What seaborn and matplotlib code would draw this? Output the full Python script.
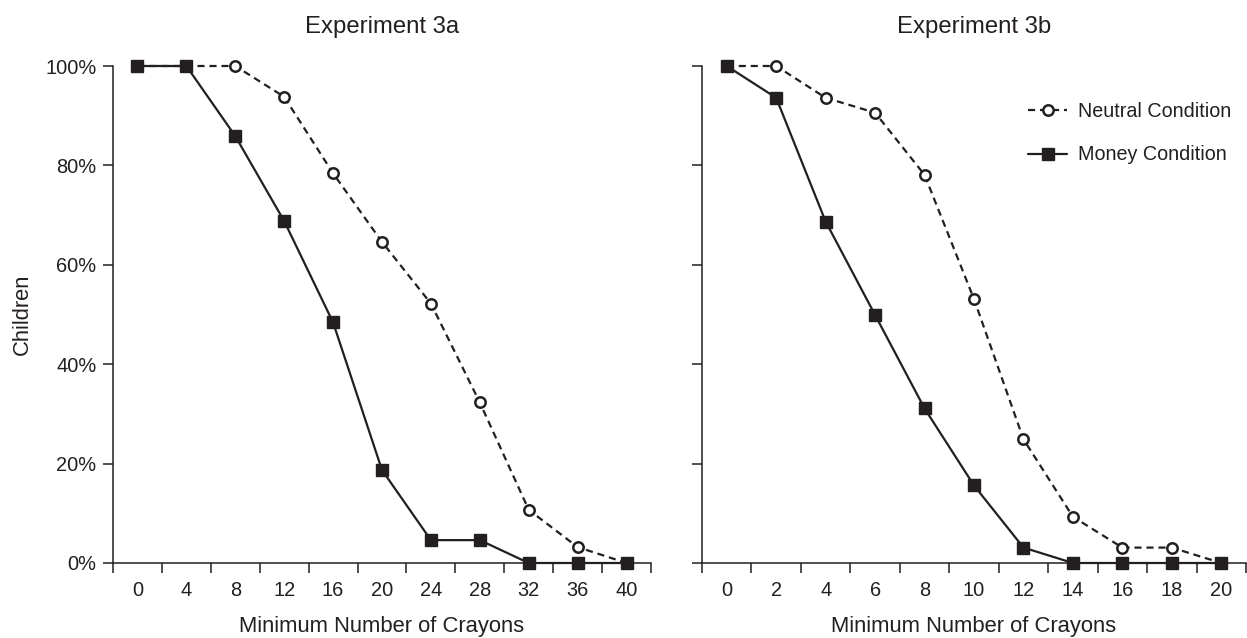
import matplotlib
matplotlib.use("Agg")
import matplotlib.pyplot as plt
import seaborn as sns
import pandas as pd
from matplotlib.ticker import FixedLocator, NullFormatter, FixedFormatter

# ---- data ----
left_x = [0, 4, 8, 12, 16, 20, 24, 28, 32, 36, 40]
left_neutral = [100, 100, 100, 93.8, 78.4, 64.6, 52.2, 32.3, 10.7, 3.2, 0]
left_money = [100, 100, 85.9, 68.8, 48.4, 18.7, 4.6, 4.6, 0, 0, 0]

right_x = [0, 2, 4, 6, 8, 10, 12, 14, 16, 18, 20]
right_neutral = [100, 100, 93.6, 90.6, 78.1, 53.1, 24.9, 9.3, 3.1, 3.1, 0]
right_money = [100, 93.6, 68.7, 49.9, 31.1, 15.6, 3.1, 0, 0, 0, 0]

titles = ["Experiment 3a", "Experiment 3b"]
xlabel = "Minimum Number of Crayons"
ylabel = "Children"
series_labels = ["Neutral Condition", "Money Condition"]
y_ticks = [0, 20, 40, 60, 80, 100]
y_ticklabels = ["0%", "20%", "40%", "60%", "80%", "100%"]

sns.set_theme(style="ticks")
plt.rcParams['font.family'] = ['Liberation Sans', 'DejaVu Sans']

INK = "#231f20"
W, H = 1247, 638
fig = plt.figure(figsize=(W / 100, H / 100), dpi=100)

def px_rect(x0, x1, ytop, ybot):
    return [x0 / W, 1 - ybot / H, (x1 - x0) / W, (ybot - ytop) / H]

axL = fig.add_axes(px_rect(113, 651, 66, 563))
axR = fig.add_axes(px_rect(702, 1246, 66, 563))

FS_TICK = 14.4
FS_LEG = 14.2
FS_LAB = 15.8
FS_TITLE = 17.2

panels = [
    (axL, left_x, left_neutral, left_money, 4),
    (axR, right_x, right_neutral, right_money, 2),
]

for i, (ax, xs, neu, mon, step) in enumerate(panels):
    df_n = pd.DataFrame({"x": xs, "y": neu})
    df_m = pd.DataFrame({"x": xs, "y": mon})
    sns.lineplot(data=df_n, x="x", y="y", ax=ax, color=INK, lw=1.6,
                 linestyle=(0, (3.2, 2.2)), marker="o", markersize=7.5,
                 markerfacecolor="white", markeredgecolor=INK, markeredgewidth=1.8,
                 clip_on=False, zorder=3, label=series_labels[0], legend=False)
    sns.lineplot(data=df_m, x="x", y="y", ax=ax, color=INK, lw=1.6,
                 linestyle="-", marker="s", markersize=8.5,
                 markerfacecolor=INK, markeredgecolor=INK, markeredgewidth=1,
                 clip_on=False, zorder=4, label=series_labels[1], legend=False)

    half = step / 2
    ax.set_xlim(xs[0] - half, xs[-1] + half)
    ax.set_ylim(0, 100)
    bounds = [x - half for x in xs] + [xs[-1] + half]
    ax.xaxis.set_major_locator(FixedLocator(bounds))
    ax.xaxis.set_major_formatter(NullFormatter())
    ax.xaxis.set_minor_locator(FixedLocator(xs))
    ax.xaxis.set_minor_formatter(FixedFormatter([str(v) for v in xs]))
    ax.tick_params(axis="x", which="major", length=7, width=1.1, color=INK, direction="out")
    ax.tick_params(axis="x", which="minor", length=0, pad=13, labelsize=FS_TICK, labelcolor=INK)

    ax.set_yticks(y_ticks)
    if i == 0:
        ax.set_yticklabels(y_ticklabels)
    else:
        ax.set_yticklabels([])
    ax.tick_params(axis="y", length=7, width=1.1, color=INK, pad=5, labelsize=FS_TICK, labelcolor=INK)

    for s in ["top", "right"]:
        ax.spines[s].set_visible(False)
    for s in ["left", "bottom"]:
        ax.spines[s].set_linewidth(1.1)
        ax.spines[s].set_color(INK)
    ax.set_xlabel("")
    ax.set_ylabel("")
    ax.set_facecolor("white")

    ax.text(0.5, 1.066, titles[i], transform=ax.transAxes, ha="center", va="baseline",
            fontsize=FS_TITLE, color=INK)
    ax.text(0.5, -0.139, xlabel, transform=ax.transAxes, ha="center", va="baseline",
            fontsize=FS_LAB, color=INK)

axL.text(-0.169, 0.5, ylabel, transform=axL.transAxes, ha="center", va="center",
         rotation=90, fontsize=FS_LAB, color=INK)

leg = axR.legend(loc="upper left", bbox_to_anchor=(0.599, 0.928), frameon=False,
                 fontsize=FS_LEG, handlelength=2.0, handletextpad=0.55,
                 labelspacing=1.25, borderpad=0, borderaxespad=0)
for t in leg.get_texts():
    t.set_color(INK)

fig.savefig("out.png", dpi=100, facecolor="white")
